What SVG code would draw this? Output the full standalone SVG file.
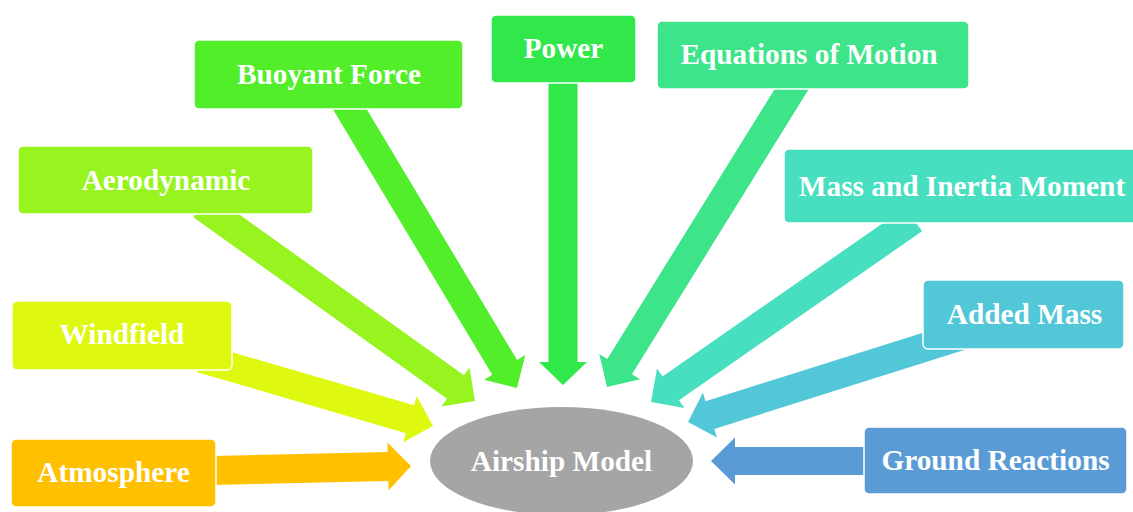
<svg xmlns="http://www.w3.org/2000/svg" width="1133" height="512" viewBox="0 0 1133 512">
<style>
.box{stroke:#ffffff;stroke-width:1.5}
.lbl{font-family:"Liberation Serif","Times New Roman",serif;font-weight:bold;font-size:29.3px;fill:#ffffff;text-anchor:middle}
</style>
<rect width="1133" height="512" fill="#ffffff"/>
<g id="connectors">
  <polygon fill="#FFC000" transform="translate(411,466) rotate(-1.32)" points="-199,-14.5 -23,-14.5 -23,-24 0,0 -23,24 -23,14.5 -199,14.5"/>
  <polygon fill="#DFF80F" transform="translate(433,426) rotate(16.3)" points="-241.5,-14.5 -24,-14.5 -24,-24 0,0 -24,24 -24,14.5 -241.5,14.5"/>
  <polygon fill="#97F41F" transform="translate(475,401) rotate(35.6)" points="-336,-14.5 -24,-14.5 -24,-24 0,0 -24,24 -24,14.5 -336,14.5"/>
  <polygon fill="#52EE2A" transform="translate(517,388) rotate(59.05)" points="-335,-14.5 -24,-14.5 -24,-24 0,0 -24,24 -24,14.5 -335,14.5"/>
  <polygon fill="#30E84A" transform="translate(563,385) rotate(90)" points="-305,-14.5 -23,-14.5 -23,-24 0,0 -23,24 -23,14.5 -305,14.5"/>
  <polygon fill="#3DE48A" transform="translate(607,387) rotate(121.8)" points="-360,-14.5 -24,-14.5 -24,-24 0,0 -24,24 -24,14.5 -360,14.5"/>
  <polygon fill="#48DFC0" transform="translate(651,402) rotate(145.2)" points="-320,-14.5 -24,-14.5 -24,-24 0,0 -24,24 -24,14.5 -320,14.5"/>
  <polygon fill="#52C7D8" transform="translate(688,422) rotate(162.5)" points="-300,-14.5 -23,-14.5 -23,-23.5 0,0 -23,23.5 -23,14.5 -300,14.5"/>
  <polygon fill="#5B9BD5" transform="translate(711,461) rotate(180)" points="-170,-14 -24,-14 -24,-23.5 0,0 -24,23.5 -24,14 -170,14"/>
</g>
<g id="airship-model">
  <ellipse cx="561.5" cy="461" rx="131.5" ry="54" fill="#A5A5A5"/>
  <text class="lbl" x="561.5" y="470.5">Airship Model</text>
</g>
<g id="atmosphere">
  <rect class="box" x="11" y="439" width="205" height="68" rx="5" fill="#FFC000"/>
  <text class="lbl" x="113.5" y="482">Atmosphere</text>
</g>
<g id="windfield">
  <rect class="box" x="12" y="301" width="220" height="69" rx="5" fill="#DFF80F"/>
  <text class="lbl" x="122" y="344">Windfield</text>
</g>
<g id="aerodynamic">
  <rect class="box" x="18" y="146" width="295" height="68" rx="5" fill="#97F41F"/>
  <text class="lbl" x="166" y="189.5">Aerodynamic</text>
</g>
<g id="buoyant-force">
  <rect class="box" x="194" y="40" width="269" height="69" rx="5" fill="#52EE2A"/>
  <text class="lbl" x="329" y="83.5">Buoyant Force</text>
</g>
<g id="power">
  <rect class="box" x="491" y="15" width="145" height="68" rx="5" fill="#30E84A"/>
  <text class="lbl" x="563.5" y="58">Power</text>
</g>
<g id="equations-of-motion">
  <rect class="box" x="657" y="21" width="312" height="68" rx="5" fill="#3DE48A"/>
  <text class="lbl" x="809" y="64">Equations of Motion</text>
</g>
<g id="mass-inertia">
  <rect class="box" x="784" y="149" width="356" height="74" rx="5" fill="#48DFC0"/>
  <text class="lbl" x="962" y="195.5">Mass and Inertia Moment</text>
</g>
<g id="added-mass">
  <rect class="box" x="923" y="280" width="201" height="69" rx="5" fill="#52C7D8"/>
  <text class="lbl" x="1024.5" y="323.5">Added Mass</text>
</g>
<g id="ground-reactions">
  <rect class="box" x="864" y="427" width="263" height="67" rx="5" fill="#5B9BD5"/>
  <text class="lbl" x="995.5" y="470">Ground Reactions</text>
</g>
</svg>
